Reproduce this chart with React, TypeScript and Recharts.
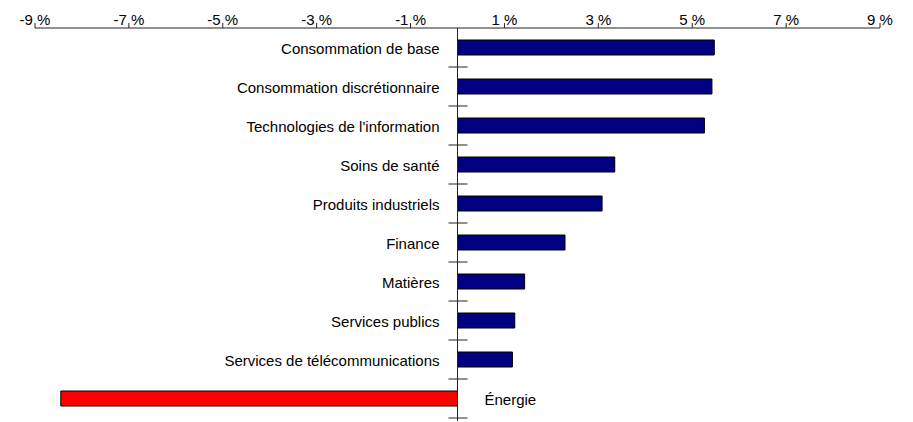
import React from "react"
import { BarChart, Bar, XAxis, YAxis, Cell, LabelList, ReferenceLine } from "recharts"

const categories = [
  "Consommation de base",
  "Consommation discrétionnaire",
  "Technologies de l'information",
  "Soins de santé",
  "Produits industriels",
  "Finance",
  "Matières",
  "Services publics",
  "Services de télécommunications",
  "Énergie",
]
const returns = [5.47, 5.42, 5.26, 3.35, 3.08, 2.29, 1.43, 1.22, 1.17, -8.45]
const xTicks = [-9, -7, -5, -3, -1, 1, 3, 5, 7, 9]

const data = categories.map((name, i) => ({ name, value: returns[i] }))

const W = 913
const H = 422
const MARGIN = { top: 0, right: 33, bottom: 4, left: 35 }
const AXIS_H = 28
const BAND = (H - MARGIN.top - MARGIN.bottom - AXIS_H) / categories.length
const FONT = "Arial, 'Liberation Sans', sans-serif"

// category name on the other side of the zero line, plus the cross tick below each band
const CategoryLabel = (props: any) => {
  const { x, y, width, height, value, index } = props
  const w = Number(width)
  const v = Number(value)
  const zeroX = w < 0 ? Number(x) : v < 0 ? Number(x) + w : Number(x)
  const cy = Number(y) + Number(height) / 2
  const tickY = cy + BAND / 2
  return (
    <g>
      <text
        x={v >= 0 ? zeroX - 18 : zeroX + 27}
        y={cy + 1}
        textAnchor={v >= 0 ? "end" : "start"}
        dominantBaseline="central"
        fontSize={15}
        fontFamily={FONT}
        fill="#000"
      >
        {categories[index]}
      </text>
      <line x1={zeroX - 9} x2={zeroX + 10} y1={tickY} y2={tickY} stroke="#222" strokeWidth={1} />
      {index === categories.length - 1 && (
        <line x1={zeroX} x2={zeroX} y1={tickY - 2} y2={tickY + 3} stroke="#222" strokeWidth={1} />
      )}
    </g>
  )
}

export default function App() {
  return (
    <div style={{ position: "absolute", left: 0, top: 0, background: "#fff" }}>
      <BarChart width={W} height={H} data={data} layout="vertical" margin={MARGIN} barSize={15}>
        <XAxis
          type="number"
          orientation="top"
          domain={[-9, 9]}
          ticks={xTicks}
          height={AXIS_H}
          tickSize={5}
          tickMargin={-2}
          tickFormatter={(v) => `${v} %`}
          stroke="#222"
          tick={{ fontSize: 15, fontFamily: FONT, fill: "#000" }}
          interval={0}
        />
        <YAxis type="category" dataKey="name" hide />
        <ReferenceLine x={0} stroke="#222" strokeWidth={1} />
        <Bar dataKey="value" stroke="#000" strokeWidth={1} isAnimationActive={false}>
          {data.map((d, i) => (
            <Cell key={i} fill={d.value < 0 ? "#FF0000" : "#000080"} />
          ))}
          <LabelList dataKey="value" content={<CategoryLabel />} />
        </Bar>
      </BarChart>
    </div>
  )
}
